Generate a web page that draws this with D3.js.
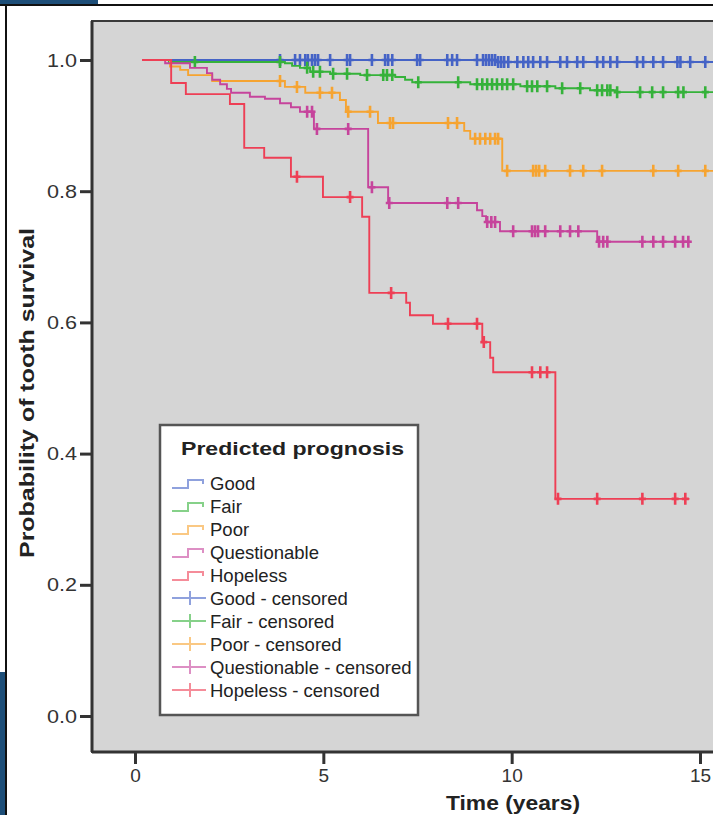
<!DOCTYPE html>
<html>
<head>
<meta charset="utf-8">
<script src="https://cdn.jsdelivr.net/npm/d3@7"></script>
<style>
  body { margin: 0; background: #fff; }
  svg { display: block; font-family: "Liberation Sans", Arial, sans-serif; }
</style>
</head>
<body>
<div id="chart"></div>
<script>
// groups and colours
const groups = ["Good", "Fair", "Poor", "Questionable", "Hopeless"]
const colors = ["#4563c6", "#35b23a", "#f6a431", "#c6449c", "#ee3f55"]

// step times (years) and survival after each step
const goodTimes = [0.19, 9.6]
const goodSurv = [1.0, 0.997]
const goodCensor = [3.85, 4.25, 4.38, 4.52, 4.59, 4.70, 4.78, 4.86, 5.18, 5.63, 5.71, 6.29, 6.64, 6.72, 6.83, 7.49, 7.57,
  8.29, 8.42, 8.55, 9.08, 9.24, 9.32, 9.40, 9.48, 9.56, 9.64, 9.72, 9.80, 9.91, 10.15, 10.31, 10.44, 10.57, 10.76, 10.94,
  11.29, 11.47, 11.74, 11.90, 12.27, 12.43, 12.62, 12.80, 13.33, 13.49, 13.76, 14.02, 14.40, 14.48, 14.74, 15.14]

const fairTimes = [0.19, 0.9, 3.98, 4.17, 4.38, 4.65, 5.18, 5.98, 6.91, 7.17, 7.36, 8.90, 10.23, 11.16, 12.08, 12.75]
const fairSurv = [1.0, 0.997, 0.995, 0.991, 0.988, 0.982, 0.979, 0.977, 0.974, 0.970, 0.966, 0.963, 0.960, 0.957, 0.954, 0.951]
const fairCensor = [1.59, 3.85, 4.57, 4.73, 4.91, 5.26, 5.63, 6.16, 6.59, 6.69, 6.83, 7.52, 8.58, 9.08, 9.22, 9.35, 9.48,
  9.61, 9.75, 9.88, 10.04, 10.41, 10.54, 10.68, 10.94, 11.34, 11.82, 12.27, 12.40, 12.54, 12.62, 12.80, 13.41, 13.73,
  14.02, 14.42, 14.56, 15.14]

const poorTimes = [0.19, 0.93, 1.20, 1.41, 2.05, 3.98, 4.52, 5.44, 5.60, 6.45, 8.74, 8.90, 9.75]
const poorSurv = [1.0, 0.99, 0.985, 0.977, 0.968, 0.959, 0.950, 0.939, 0.921, 0.904, 0.892, 0.880, 0.831]
const poorCensor = [3.85, 4.30, 4.91, 5.23, 5.66, 6.24, 6.77, 6.85, 8.31, 8.55, 9.03, 9.16, 9.30, 9.43, 9.56, 9.64, 9.88,
  10.57, 10.65, 10.73, 10.89, 11.55, 11.90, 12.40, 13.76, 14.42, 15.14]

const questTimes = [0.19, 0.80, 1.46, 1.91, 2.05, 2.26, 2.44, 2.55, 3.05, 3.45, 3.85, 4.14, 4.38, 4.75, 6.19, 6.72,
  9.08, 9.22, 9.32, 9.69, 12.27]
const questSurv = [1.0, 0.995, 0.988, 0.980, 0.970, 0.963, 0.956, 0.950, 0.944, 0.941, 0.934, 0.928, 0.921, 0.895,
  0.806, 0.782, 0.771, 0.762, 0.753, 0.739, 0.723]
const questCensor = [4.57, 4.70, 4.83, 5.66, 6.29, 6.75, 8.29, 8.58, 9.35, 9.46, 9.56, 10.04, 10.54, 10.62, 10.70,
  10.89, 11.29, 11.55, 11.77, 12.32, 12.43, 12.54, 13.47, 13.76, 14.02, 14.34, 14.55, 14.69]

const hopeTimes = [0.19, 0.96, 1.35, 2.52, 2.90, 3.43, 4.14, 4.99, 6.03, 6.22, 7.20, 7.30, 7.91, 9.22, 9.43, 9.51, 11.16]
const hopeSurv = [1.0, 0.965, 0.948, 0.933, 0.866, 0.851, 0.822, 0.791, 0.761, 0.645, 0.630, 0.611, 0.598, 0.570,
  0.546, 0.524, 0.331]
const hopeCensor = [4.30, 5.71, 6.80, 8.31, 9.08, 9.26, 10.54, 10.76, 10.94, 11.23, 12.27, 13.47, 14.34, 14.61]

// follow-up end per group
const endTimes = [15.6, 15.6, 15.6, 14.75, 14.72]

const xTicks = [0, 5, 10, 15]
const yTicks = [0, 0.2, 0.4, 0.6, 0.8, 1.0]

const legendLabels = ["Good", "Fair", "Poor", "Questionable", "Hopeless",
  "Good - censored", "Fair - censored", "Poor - censored", "Questionable - censored", "Hopeless - censored"]

const series = [
  { times: goodTimes, surv: goodSurv, censor: goodCensor },
  { times: fairTimes, surv: fairSurv, censor: fairCensor },
  { times: poorTimes, surv: poorSurv, censor: poorCensor },
  { times: questTimes, surv: questSurv, censor: questCensor },
  { times: hopeTimes, surv: hopeSurv, censor: hopeCensor }
]

const W = 713, H = 815
const plot = { left: 92, top: 21, right: 760, bottom: 752 }

const x = d3.scaleLinear().domain([0, 15]).range([135, 700])
const y = d3.scaleLinear().domain([0, 1]).range([716, 60])

const svg = d3.select("#chart").append("svg")
  .attr("width", W)
  .attr("height", H)

// page frame bits
svg.append("rect").attr("x", 0).attr("y", 0).attr("width", 98).attr("height", 4).attr("fill", "#1d4e78")
svg.append("rect").attr("x", 0).attr("y", 672).attr("width", 5).attr("height", H - 672).attr("fill", "#1d4e78")
svg.append("line").attr("x1", 0).attr("x2", W).attr("y1", 5).attr("y2", 5).attr("stroke", "#111").attr("stroke-width", 2)
svg.append("line").attr("x1", 6).attr("x2", 6).attr("y1", 5).attr("y2", H).attr("stroke", "#111").attr("stroke-width", 2)

// plot background
svg.append("rect")
  .attr("x", plot.left).attr("y", plot.top)
  .attr("width", plot.right - plot.left).attr("height", plot.bottom - plot.top)
  .attr("fill", "#d5d5d5")
  .attr("stroke", "#3a3a3a")
  .attr("stroke-width", 2)

svg.append("clipPath").attr("id", "clip")
  .append("rect")
  .attr("x", plot.left).attr("y", plot.top)
  .attr("width", plot.right - plot.left).attr("height", plot.bottom - plot.top)

// axes
const yAxis = svg.append("g")
  .attr("transform", "translate(" + plot.left + ",0)")
  .call(d3.axisLeft(y).tickValues(yTicks).tickFormat(d3.format(".1f")).tickSize(12).tickPadding(3))
yAxis.select(".domain").remove()
yAxis.selectAll("line").attr("stroke", "#333").attr("stroke-width", 3)
yAxis.selectAll("text").attr("font-size", 19).attr("fill", "#333")
  .attr("font-family", "Liberation Sans, Arial, sans-serif")
  .attr("textLength", 30).attr("lengthAdjust", "spacingAndGlyphs")

const xAxis = svg.append("g")
  .attr("transform", "translate(0," + plot.bottom + ")")
  .call(d3.axisBottom(x).tickValues(xTicks).tickSize(12).tickPadding(5))
xAxis.select(".domain").remove()
xAxis.selectAll("line").attr("stroke", "#333").attr("stroke-width", 3)
xAxis.selectAll("text").attr("font-size", 19).attr("fill", "#333").attr("font-family", "Liberation Sans, Arial, sans-serif")

svg.append("line")
  .attr("x1", plot.left).attr("x2", W)
  .attr("y1", plot.bottom).attr("y2", plot.bottom)
  .attr("stroke", "#333").attr("stroke-width", 3)
svg.append("line")
  .attr("x1", plot.left).attr("x2", plot.left)
  .attr("y1", plot.top).attr("y2", plot.bottom)
  .attr("stroke", "#333").attr("stroke-width", 3)

// axis titles
svg.append("text")
  .attr("x", 446).attr("y", 810)
  .attr("font-size", 20).attr("font-weight", "bold").attr("fill", "#222")
  .attr("textLength", 134).attr("lengthAdjust", "spacingAndGlyphs")
  .text("Time (years)")

svg.append("text")
  .attr("transform", "translate(34,558) rotate(-90)")
  .attr("font-size", 21).attr("font-weight", "bold").attr("fill", "#222")
  .attr("textLength", 330).attr("lengthAdjust", "spacingAndGlyphs")
  .text("Probability of tooth survival")

// curves
const line = d3.line()
  .x(d => x(d[0]))
  .y(d => y(d[1]))
  .curve(d3.curveStepAfter)

const survAt = (s, t) => {
  const i = d3.bisectRight(s.times, t) - 1
  return s.surv[Math.max(0, i)]
}

const curves = svg.append("g").attr("clip-path", "url(#clip)")

series.forEach((s, gi) => {
  const pts = s.times.map((t, i) => [t, s.surv[i]])
  pts.push([endTimes[gi], s.surv[s.surv.length - 1]])
  curves.append("path")
    .attr("d", line(pts))
    .attr("fill", "none")
    .attr("stroke", colors[gi])
    .attr("stroke-width", 1.9)

  curves.append("g")
    .selectAll("path")
    .data(s.censor)
    .enter().append("path")
    .attr("d", t => {
      const cx = x(t), cy = y(survAt(s, t))
      return "M" + (cx - 3.5) + "," + cy + "H" + (cx + 3.5) + "M" + cx + "," + (cy - 6) + "V" + (cy + 6)
    })
    .attr("stroke", colors[gi])
    .attr("stroke-width", 2.6)
})

// legend
const legend = svg.append("g")
legend.append("rect")
  .attr("x", 160).attr("y", 425)
  .attr("width", 258).attr("height", 290)
  .attr("fill", "#fff")
  .attr("stroke", "#555")
  .attr("stroke-width", 2.5)

legend.append("text")
  .attr("x", 181).attr("y", 455)
  .attr("font-size", 19).attr("font-weight", "bold").attr("fill", "#222")
  .attr("textLength", 223).attr("lengthAdjust", "spacingAndGlyphs")
  .text("Predicted prognosis")

legendLabels.forEach((label, i) => {
  const by = 490 + i * 23
  const c = colors[i % 5]
  if (i < 5) {
    legend.append("path")
      .attr("d", "M172," + (by - 2) + "H188V" + (by - 10) + "H203V" + (by - 6))
      .attr("fill", "none").attr("stroke", c).attr("stroke-width", 2).attr("opacity", 0.6)
  } else {
    legend.append("path")
      .attr("d", "M172," + (by - 7) + "H206M190," + (by - 14) + "V" + by)
      .attr("fill", "none").attr("stroke", c).attr("stroke-width", 2).attr("opacity", 0.6)
  }
  legend.append("text")
    .attr("x", 210).attr("y", by)
    .attr("font-size", 18.5).attr("fill", "#222")
    .text(label)
})
</script>
</body>
</html>
